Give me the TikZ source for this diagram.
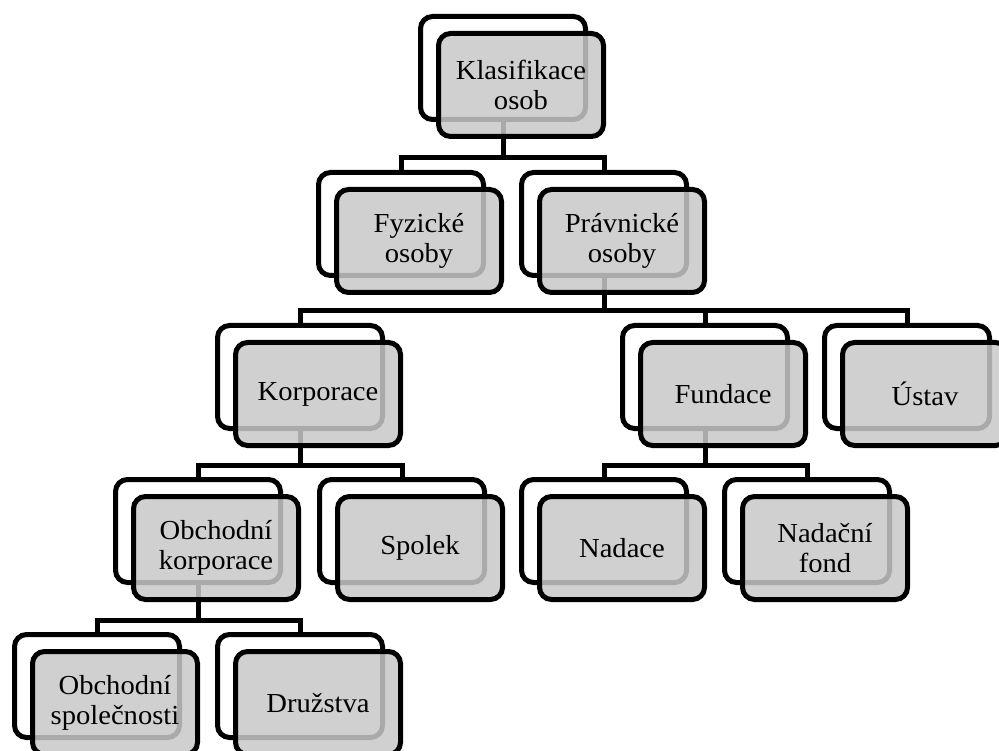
\documentclass[tikz,border=0pt]{standalone}
\usepackage{fontspec}
\newfontfamily\boxfont[FakeStretch=1.04]{Liberation Serif}
\tikzset{
  backbox/.style={draw, line width=5pt, rounded corners=12pt, fill=white,
    minimum width=165pt, minimum height=103pt, inner sep=0pt},
  frontbox/.style={draw, line width=5pt, rounded corners=12pt,
    fill={rgb,255:red,200;green,200;blue,200}, fill opacity=0.85, text opacity=1,
    minimum width=165pt, minimum height=103pt, inner sep=0pt, align=center,
    font=\boxfont\fontsize{27.5}{30}\selectfont},
  link/.style={line width=5pt}
}
\begin{document}
\begin{tikzpicture}[x=1pt, y=-1pt]
\useasboundingbox (0,0) rectangle (999,751);
% back boxes
\foreach \n/\x/\y in {klas/503/68, fyz/401/224, prav/604/224,
    korp/300/377, fund/705/377, ustav/907/377,
    obkorp/198/531, spolek/402/531, nadace/604/531, nfond/807/531,
    obspol/97/686, druz/300/686}{
  \node[backbox] (B\n) at (\x,\y) {};
}
% connectors
\foreach \c/\p in {fyz/klas, prav/klas, korp/prav, fund/prav, ustav/prav,
    obkorp/korp, spolek/korp, nadace/fund, nfond/fund, obspol/obkorp, druz/obkorp}{
  \draw[link] (B\c.north) -- ++(0,12pt) -| (B\p.south);
}
% front boxes
\node[frontbox] (klas) at ([shift={(18pt,-17pt)}]Bklas) {Klasifikace\\osob};
\node[frontbox] (fyz) at ([shift={(18pt,-17pt)}]Bfyz) {Fyzické\\osoby};
\node[frontbox] (prav) at ([shift={(18pt,-17pt)}]Bprav) {Právnické\\osoby};
\node[frontbox] (korp) at ([shift={(18pt,-17pt)}]Bkorp) {Korporace};
\node[frontbox] (fund) at ([shift={(18pt,-17pt)}]Bfund) {Fundace};
\node[frontbox] (ustav) at ([shift={(18pt,-17pt)}]Bustav) {Ústav};
\node[frontbox] (obkorp) at ([shift={(18pt,-17pt)}]Bobkorp) {Obchodní\\korporace};
\node[frontbox] (spolek) at ([shift={(18pt,-17pt)}]Bspolek) {Spolek};
\node[frontbox] (nadace) at ([shift={(18pt,-17pt)}]Bnadace) {Nadace};
\node[frontbox] (nfond) at ([shift={(18pt,-17pt)}]Bnfond) {Nadační\\fond};
\node[frontbox] (obspol) at ([shift={(18pt,-17pt)}]Bobspol) {Obchodní\\společnosti};
\node[frontbox] (druz) at ([shift={(18pt,-17pt)}]Bdruz) {Družstva};
\end{tikzpicture}
\end{document}
